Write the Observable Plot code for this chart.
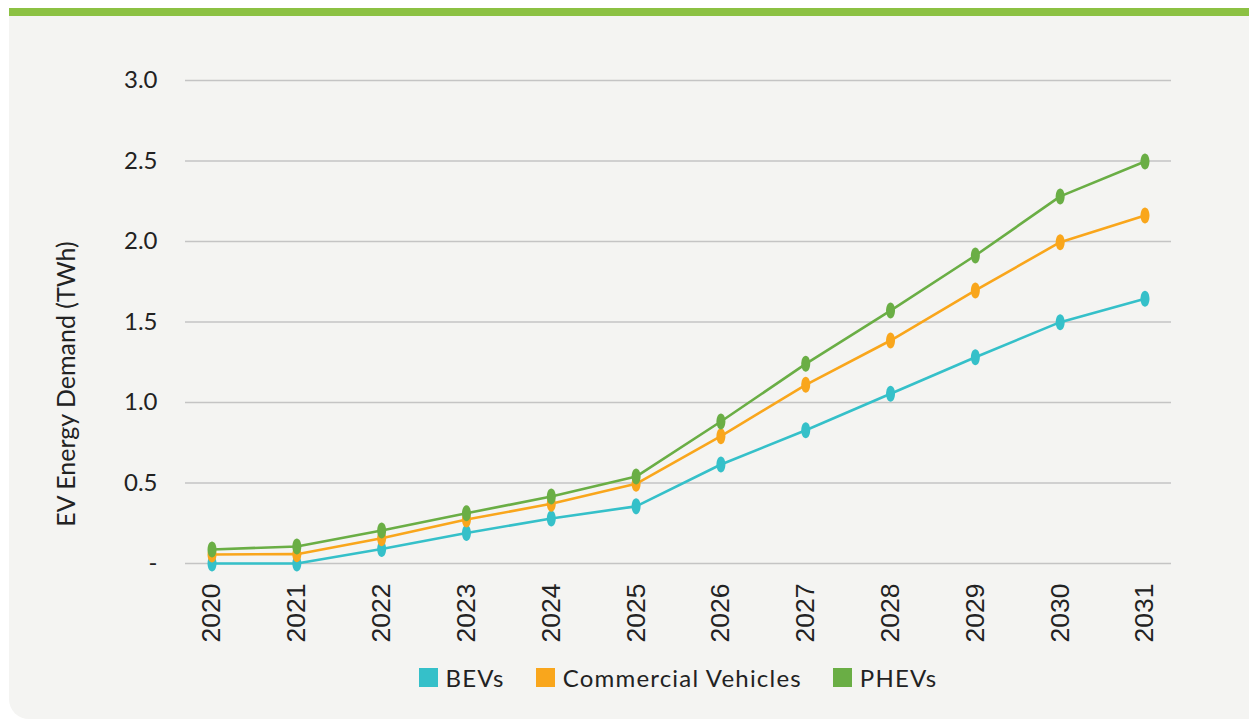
<!DOCTYPE html>
<html>
<head>
<meta charset="utf-8">
<script src="https://cdn.jsdelivr.net/npm/d3@7"></script>
<script src="https://cdn.jsdelivr.net/npm/@observablehq/plot@0.6"></script>
<style>
  html, body { margin: 0; padding: 0; background: #ffffff; }
  #panel {
    position: absolute; left: 9px; top: 8px; width: 1240px; height: 703px;
    background: #f4f4f2; border-top: 8px solid #8cc143;
    border-bottom-left-radius: 20px; overflow: hidden;
  }
  #chart { position: absolute; left: 0; top: 0; }
  #legend {
    position: absolute; left: 0; width: 1338px; top: 647px;
    display: flex; justify-content: center; align-items: center; gap: 31px;
    font-family: Lato, sans-serif; font-size: 24px; letter-spacing: 1.2px; color: #222;
  }
  #legend .item { display: flex; align-items: center; gap: 8px; }
  #legend .sw { width: 19px; height: 19px; display: inline-block; }
</style>
</head>
<body>
<div id="panel">
  <div id="chart"></div>
  <div id="legend"></div>
</div>
<script>
const years = [2020, 2021, 2022, 2023, 2024, 2025, 2026, 2027, 2028, 2029, 2030, 2031];
const seriesNames = ["BEVs", "Commercial Vehicles", "PHEVs"];
const seriesColors = ["#35c0c9", "#f9a61c", "#6aae45"];
const bevs = [0.0, 0.0, 0.09, 0.19, 0.28, 0.355, 0.615, 0.828, 1.054, 1.281, 1.499, 1.644];
const commercial = [0.056, 0.058, 0.157, 0.273, 0.371, 0.495, 0.791, 1.110, 1.385, 1.696, 1.996, 2.161];
const phevs = [0.087, 0.106, 0.205, 0.312, 0.416, 0.54, 0.882, 1.240, 1.571, 1.913, 2.280, 2.497];
const yTicks = [0, 0.5, 1.0, 1.5, 2.0, 2.5, 3.0];
const yLabel = "EV Energy Demand (TWh)";

const seriesValues = [bevs, commercial, phevs];
const data = seriesNames.flatMap((s, i) => years.map((yr, j) => ({series: s, year: yr, value: seriesValues[i][j]})));

const ellipse = {
  draw(ctx) {
    const rx = 4.5, ry = 8, k = 0.5523;
    ctx.moveTo(0, -ry);
    ctx.bezierCurveTo(rx * k, -ry, rx, -ry * k, rx, 0);
    ctx.bezierCurveTo(rx, ry * k, rx * k, ry, 0, ry);
    ctx.bezierCurveTo(-rx * k, ry, -rx, ry * k, -rx, 0);
    ctx.bezierCurveTo(-rx, -ry * k, -rx * k, -ry, 0, -ry);
    ctx.closePath();
  }
};

const pad = 0.3126;
const plot = Plot.plot({
  width: 1240,
  height: 640,
  marginLeft: 176,
  marginRight: 78,
  marginTop: 64,
  marginBottom: 93,
  style: { background: "transparent", overflow: "visible" },
  x: { type: "linear", domain: [years[0] - pad, years[years.length - 1] + pad] },
  y: { domain: [0, 3] },
  color: { domain: seriesNames, range: seriesColors },
  marks: [
    Plot.ruleY(yTicks, { stroke: "#c4c4c4", strokeWidth: 1.5 }),
    Plot.axisY({
      ticks: yTicks, tickSize: 0, tickPadding: 28, label: null,
      tickFormat: d => d === 0 ? "-" : d.toFixed(1),
      fontFamily: "Lato, sans-serif", fontSize: 24, letterSpacing: "1.2px", fill: "#222"
    }),
    Plot.axisX({
      ticks: years, tickSize: 0, tickPadding: 20, tickRotate: -90, label: null,
      tickFormat: d => String(d),
      fontFamily: "'Liberation Sans', Arial, sans-serif", fontSize: 26.5, fill: "#222"
    }),
    Plot.text([yLabel], {
      frameAnchor: "left", textAnchor: "middle", rotate: -90, dx: -119, dy: 62,
      fontFamily: "Lato, sans-serif", fontSize: 25, letterSpacing: "1.8px", fill: "#222"
    }),
    Plot.line(data, { x: "year", y: "value", z: "series", stroke: "series", strokeWidth: 2.6 }),
    Plot.dot(data, { x: "year", y: "value", fill: "series", symbol: ellipse, r: 5, stroke: "none" })
  ]
});
document.getElementById("chart").appendChild(plot);

const legend = document.getElementById("legend");
seriesNames.forEach((name, i) => {
  const item = document.createElement("div");
  item.className = "item";
  const sw = document.createElement("span");
  sw.className = "sw";
  sw.style.background = seriesColors[i];
  const label = document.createElement("span");
  label.textContent = name;
  item.appendChild(sw);
  item.appendChild(label);
  legend.appendChild(item);
});
</script>
</body>
</html>
